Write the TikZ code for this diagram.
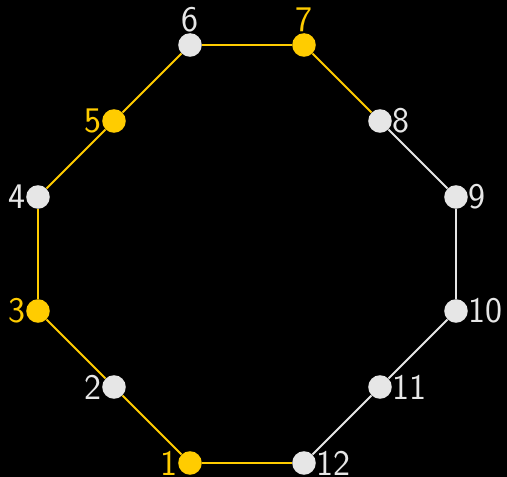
\documentclass[tikz,border=0pt]{standalone}
\usepackage{tikz}
\usetikzlibrary{positioning}
\definecolor{goldc}{HTML}{FFCC00}
\definecolor{greyc}{HTML}{E6E6E6}
\tikzset{
  wvtx/.style={circle,fill=greyc,minimum size=6.2mm,inner sep=0pt},
  gvtx/.style={wvtx,fill=goldc},
  wlbl/.style={font=\sffamily\fontsize{27}{30}\selectfont,text=greyc,inner sep=0.5pt},
  glbl/.style={wlbl,text=goldc},
  wedg/.style={line width=1.5pt,draw=greyc},
  gedg/.style={wedg,draw=goldc},
}

\begin{document}
\begin{tikzpicture}
  \useasboundingbox[fill=black] (-1,-0.368) rectangle (12.342,12.184);
  % vertices: name / position / colour / label side
  \foreach \n/\p/\s/\a in {1/{4,0}/g/left,2/{2,2}/w/left,3/{0,4}/g/left,4/{0,7}/w/left,
      5/{2,9}/g/left,6/{4,11}/w/above,7/{7,11}/g/above,8/{9,9}/w/right,
      9/{11,7}/w/right,10/{11,4}/w/right,11/{9,2}/w/right,12/{7,0}/w/right}
    \node[\s vtx,label={[\s lbl,label distance=0pt]\a:\n}] (v\n) at (\p) {};
  \foreach \a/\b/\s in {12/1/g,1/2/g,2/3/g,3/4/g,4/5/g,5/6/g,6/7/g,7/8/g,
      8/9/w,9/10/w,10/11/w,11/12/w}
    \draw[\s edg] (v\a) -- (v\b);
\end{tikzpicture}
\end{document}
